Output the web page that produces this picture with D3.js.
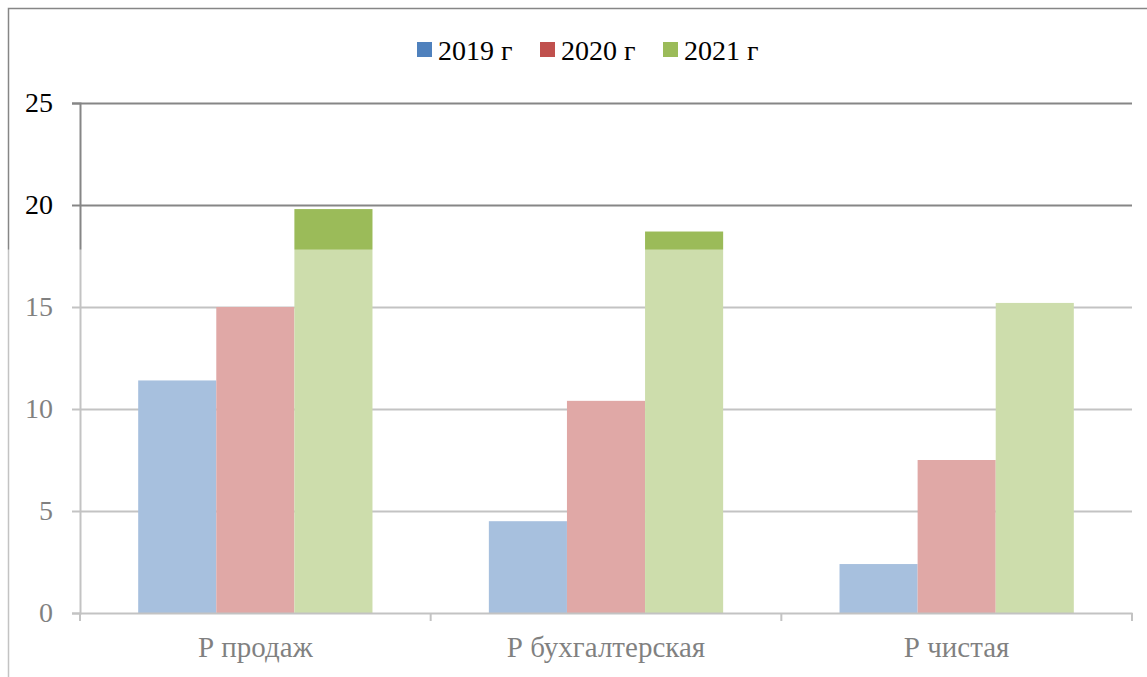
<!DOCTYPE html>
<html>
<head>
<meta charset="utf-8">
<script src="https://cdn.jsdelivr.net/npm/d3@7"></script>
<style>
  body { margin: 0; background: #fff; }
  svg text { font-family: 'Liberation Serif', 'Times New Roman', Tinos, 'DejaVu Serif', serif !important; }
</style>
</head>
<body>
<div id="chart"></div>
<script>
const categories = ['Р продаж', 'Р бухгалтерская', 'Р чистая'];
const seriesNames = ['2019 г', '2020 г', '2021 г'];
const values2019 = [11.4, 4.5, 2.4];
const values2020 = [15.0, 10.4, 7.5];
const values2021 = [19.8, 18.7, 15.2];
const yTicks = [0, 5, 10, 15, 20, 25];
const colors = ['#4F81BD', '#C0504D', '#9BBB59'];

const width = 1147;
const height = 677;
const margin = { top: 103, right: 15, bottom: 64, left: 80 };

const svg = d3.select('#chart')
    .append('svg')
    .attr('width', width)
    .attr('height', height);

const x0 = d3.scaleBand()
    .domain(categories)
    .range([margin.left, width - margin.right])
    .paddingInner(0)
    .paddingOuter(0);

const x1 = d3.scaleBand()
    .domain(seriesNames)
    .range([0, x0.bandwidth()])
    .paddingOuter(0.745)
    .paddingInner(0);

const y = d3.scaleLinear()
    .domain([0, 25])
    .range([height - margin.bottom, margin.top]);

// outer frame (only left and top edges visible)
svg.append('path')
    .attr('d', `M8.5,${height} V8.5 H${width}`)
    .attr('fill', 'none')
    .attr('stroke', '#868686')
    .attr('stroke-width', 1.5);

// gridlines
svg.append('g')
    .selectAll('line')
    .data(yTicks.filter(d => d > 0))
    .enter()
    .append('line')
    .attr('x1', margin.left)
    .attr('x2', width - margin.right)
    .attr('y1', d => y(d) + 0.5)
    .attr('y2', d => y(d) + 0.5)
    .attr('stroke', '#868686')
    .attr('stroke-width', 2);

// bars
const rows = categories.map((c, i) => ({
    category: c,
    vals: [values2019[i], values2020[i], values2021[i]]
}));

svg.append('g')
    .selectAll('g')
    .data(rows)
    .enter()
    .append('g')
    .attr('transform', d => `translate(${x0(d.category)},0)`)
    .selectAll('rect')
    .data(d => d.vals.map((v, j) => ({ name: seriesNames[j], value: v, color: colors[j] })))
    .enter()
    .append('rect')
    .attr('x', d => x1(d.name))
    .attr('width', x1.bandwidth())
    .attr('y', d => y(d.value))
    .attr('height', d => y(0) - y(d.value))
    .attr('fill', d => d.color);

// y axis
const yAxis = svg.append('g')
    .attr('transform', `translate(${margin.left},0)`)
    .call(d3.axisLeft(y).tickValues(yTicks).tickSize(8).tickPadding(19));
yAxis.select('.domain').attr('stroke', '#868686').attr('stroke-width', 2);
yAxis.selectAll('.tick line').attr('stroke', '#868686').attr('stroke-width', 2);
yAxis.selectAll('.tick text')
    .attr('fill', '#000')
    .attr('font-size', 28);

// x axis
const xAxis = svg.append('g')
    .attr('transform', `translate(0,${y(0)})`)
    .call(d3.axisBottom(x0).tickSize(0).tickPadding(23));
xAxis.select('.domain').attr('stroke', '#868686').attr('stroke-width', 2);
xAxis.selectAll('.tick text')
    .attr('fill', '#000')
    .attr('font-size', 29);

// category separators
const sepX = categories.map(c => x0(c)).concat([x0.range()[1]]);
xAxis.selectAll('.sep')
    .data(sepX)
    .enter()
    .append('line')
    .attr('x1', d => d)
    .attr('x2', d => d)
    .attr('y1', 0)
    .attr('y2', 8)
    .attr('stroke', '#868686')
    .attr('stroke-width', 2);

// legend
const legendX = [417, 540, 663];
const legend = svg.append('g')
    .selectAll('g')
    .data(seriesNames)
    .enter()
    .append('g')
    .attr('transform', (d, i) => `translate(${legendX[i]},42)`);
legend.append('rect')
    .attr('width', 15)
    .attr('height', 15)
    .attr('fill', (d, i) => colors[i]);
legend.append('text')
    .attr('x', 21)
    .attr('y', 18)
    .attr('font-size', 28)
    .attr('fill', '#000')
    .text(d => d);

// washed-out lower part of the picture
svg.append('rect')
    .attr('x', 0)
    .attr('y', 249.5)
    .attr('width', width)
    .attr('height', height - 249.5)
    .attr('fill', '#fff')
    .attr('opacity', 0.5);
</script>
</body>
</html>
